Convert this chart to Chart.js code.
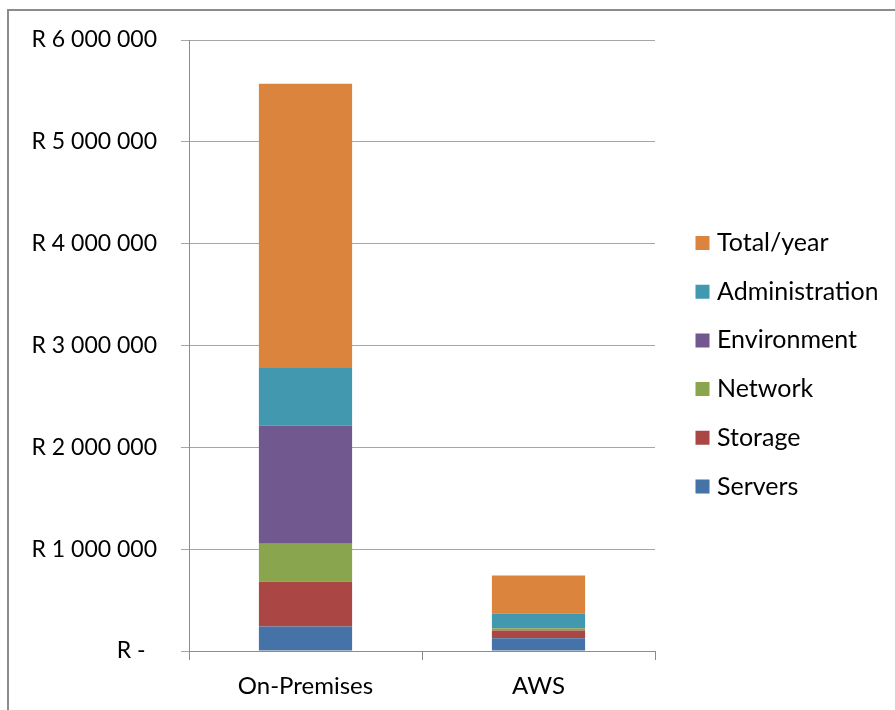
<!DOCTYPE html>
<html>
<head>
<meta charset="utf-8">
<script src="https://cdn.jsdelivr.net/npm/chart.js@4/dist/chart.umd.min.js"></script>
<style>
  html, body { margin: 0; padding: 0; background: #ffffff; overflow: hidden; }
  #wrap { position: relative; width: 895px; height: 710px; overflow: hidden; }
  #frame { position: absolute; left: 7px; top: 9px; width: 1200px; height: 1200px;
           border: 2px solid #8c8c8c; pointer-events: none; }
  canvas { position: absolute; left: 0; top: 0; }
</style>
</head>
<body>
<div id="wrap">
  <canvas id="c" width="895" height="710"></canvas>
  <div id="frame"></div>
</div>
<script>
const categories = ['On-Premises', 'AWS'];
const servers = [240000, 126000];
const storage = [439000, 75000];
const network = [375000, 23000];
const environment = [1159000, 0];
const administration = [566000, 141000];
const totalYear = [2791000, 376000];
const yTickLabels = ['R -\u2002', 'R 1 000 000', 'R 2 000 000', 'R 3 000 000', 'R 4 000 000', 'R 5 000 000', 'R 6 000 000'];

const GRID = '#a6a6a6';
const AXIS = '#8c8c8c';

function ds(label, data, color) {
  return { label, data, backgroundColor: color, borderWidth: 0 };
}

// place the legend block where the reference has it
const legendPlace = {
  id: 'legendPlace',
  afterLayout(chart) {
    const lg = chart.legend;
    if (!lg) return;
    const w = lg.width;
    lg.left = 676.8; lg.right = lg.left + w;
    lg.top -= 10.25; lg.bottom -= 10.25;
  }
};

new Chart(document.getElementById('c'), {
  type: 'bar',
  data: {
    labels: categories,
    datasets: [
      ds('Servers', servers, '#4572A7'),
      ds('Storage', storage, '#AA4643'),
      ds('Network', network, '#89A54E'),
      ds('Environment', environment, '#71588F'),
      ds('Administration', administration, '#4198AF'),
      ds('Total/year', totalYear, '#DB843D')
    ]
  },
  plugins: [legendPlace],
  options: {
    responsive: false,
    animation: false,
    events: [],
    layout: { padding: { top: 40, left: 0, right: 40, bottom: 0 } },
    datasets: { bar: { categoryPercentage: 1, barPercentage: 0.4 } },
    plugins: {
      tooltip: { enabled: false },
      legend: {
        position: 'right',
        reverse: true,
        maxWidth: 200,
        labels: {
          font: { family: 'Lato', size: 25 },
          color: '#000',
          usePointStyle: true,
          pointStyle: 'rect',
          boxWidth: 4,
          boxHeight: 14,
          padding: 23.7
        }
      }
    },
    scales: {
      x: {
        stacked: true,
        grid: { offset: true, drawOnChartArea: false, drawTicks: true, tickLength: 9, color: AXIS },
        border: { display: true, color: AXIS },
        ticks: { font: { family: 'Lato', size: 24 }, color: '#000', padding: 12 },
        afterFit: (s) => { s.height = 59; }
      },
      y: {
        stacked: true,
        min: 0,
        max: 6000000,
        grid: { color: GRID, tickLength: 8 },
        border: { display: true, color: AXIS },
        ticks: {
          stepSize: 1000000,
          font: { family: 'Lato', size: 23 },
          color: '#000',
          padding: 24,
          callback: (v) => yTickLabels[Math.round(v / 1000000)]
        },
        afterFit: (s) => { s.width = 189; }
      }
    }
  }
});
</script>
</body>
</html>
